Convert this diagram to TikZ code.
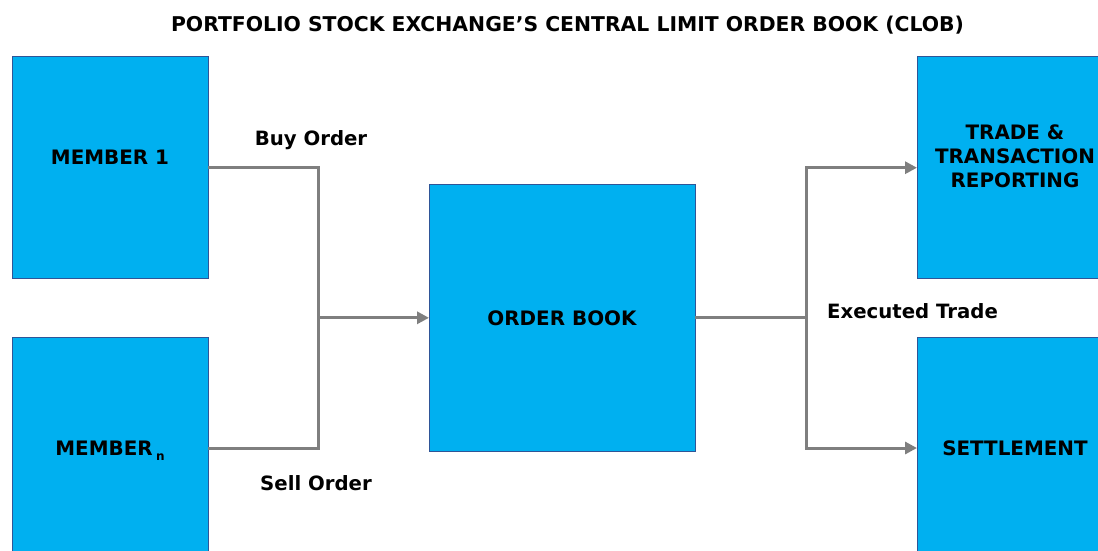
\documentclass[tikz,border=0pt]{standalone}
\usepackage{fontspec}
\setmainfont{DejaVu Sans}
\usetikzlibrary{arrows.meta}
\definecolor{boxfill}{HTML}{00B0F0}
\definecolor{boxedge}{HTML}{2F5597}
\definecolor{conngray}{HTML}{7F7F7F}
\tikzset{
  box/.style={draw=boxedge, line width=1pt, fill=boxfill, inner sep=0pt, outer sep=0pt},
  boxtext/.style={font=\bfseries\fontsize{19.9}{24}\selectfont, align=center, inner sep=0pt},
  lbl/.style={font=\bfseries\fontsize{19.7}{24}\selectfont, inner sep=0pt},
  conn/.style={draw=conngray, line width=3pt},
  arr/.style={conn, -{Triangle[length=12pt,width=12pt]}}
}
\begin{document}
\begin{tikzpicture}[x=1pt,y=-1pt]
\useasboundingbox (0,0) rectangle (1098,550);
\clip (0,0) rectangle (1098,550);
\fill[white] (0,0) rectangle (1098,550);
% boxes
\node[box, minimum width=196pt, minimum height=222pt] (m1) at (110,167.7) {};
\node[box, minimum width=196pt, minimum height=222pt] (mn) at (110,448) {};
\node[box, minimum width=266pt, minimum height=267.5pt] (ob) at (562,317.8) {};
\node[box, minimum width=196pt, minimum height=222pt] (tr) at (1015,167.7) {};
\node[box, minimum width=196pt, minimum height=222pt] (st) at (1015,448) {};
% box texts
\node[boxtext] (m1t) at ([yshift=10.5pt]m1.center) {MEMBER 1};
\node[boxtext] (mnt) at ([yshift=-3pt]mn.center) {MEMBER\,\raisebox{-5pt}{\fontsize{12}{14}\selectfont n}};
\node[boxtext] (obt) at (ob.center) {ORDER BOOK};
\node[boxtext] (trt) at ([yshift=11.5pt]tr.center) {TRADE \&\\TRANSACTION\\REPORTING};
\node[boxtext] (stt) at (st.center) {SETTLEMENT};
% title
\node[lbl, font=\bfseries\fontsize{20.35}{24}\selectfont] (title) at (567.5,25) {PORTFOLIO STOCK EXCHANGE’S CENTRAL LIMIT ORDER BOOK (CLOB)};
% junctions
\coordinate (jl) at (318,317.8);
\coordinate (jr) at (806,317.8);
% connectors
\draw[conn] (m1.east) -| (jl);
\draw[conn] (mn.east) -| (jl);
\draw[arr] (jl) -- (ob.west);
\draw[conn] (ob.east) -- (jr);
\draw[arr] (jr) |- (tr.west);
\draw[arr] (jr) |- (st.west);
% labels
\node[lbl] (buy) at (311,140) {Buy Order};
\node[lbl] (sell) at (316,483) {Sell Order};
\node[lbl] (exec) at (912.5,311) {Executed Trade};
\end{tikzpicture}
\end{document}
